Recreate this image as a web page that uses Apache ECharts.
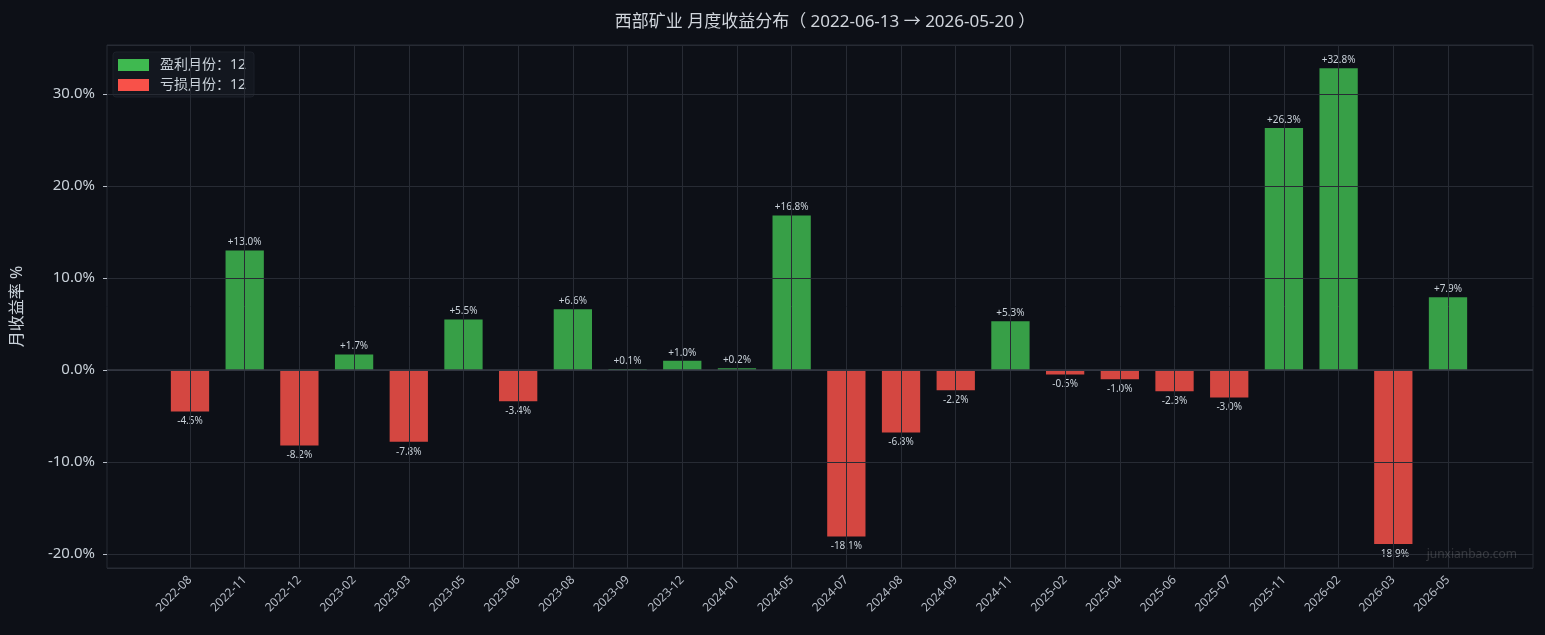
<!DOCTYPE html>
<html>
<head>
<meta charset="utf-8">
<script src="https://cdn.jsdelivr.net/npm/echarts@6/dist/echarts.min.js"></script>
<style>
  html, body { margin: 0; padding: 0; background: #0d1017; }
  #main { width: 1545px; height: 635px; }
</style>
</head>
<body>
<div id="main"></div>
<script>
var months = ['2022-08', '2022-11', '2022-12', '2023-02', '2023-03', '2023-05', '2023-06', '2023-08',
  '2023-09', '2023-12', '2024-01', '2024-05', '2024-07', '2024-08', '2024-09', '2024-11',
  '2025-02', '2025-04', '2025-06', '2025-07', '2025-11', '2026-02', '2026-03', '2026-05'];
var returns = [-4.5, 13.0, -8.2, 1.7, -7.8, 5.5, -3.4, 6.6,
  0.1, 1.0, 0.2, 16.8, -18.1, -6.8, -2.2, 5.3,
  -0.5, -1.0, -2.3, -3.0, 26.3, 32.8, -18.9, 7.9];
var yMin = -21.52, yMax = 35.33;

var fontFam = '"Noto Sans", "Noto Sans CJK SC", sans-serif';
var gridColor = '#272b34';
var textColor = '#c9d1d9';

// 正负分开成两个序列
var gains = returns.map(function (v) { return v > 0 ? v : null; });
var losses = returns.map(function (v) { return v < 0 ? v : null; });
var nGain = gains.filter(function (v) { return v !== null; }).length;
var nLoss = losses.filter(function (v) { return v !== null; }).length;
var gainName = '盈利月份：' + nGain;
var lossName = '亏损月份：' + nLoss;

function fmt(p) {
  var v = p.value;
  return (v > 0 ? '+' : '') + v.toFixed(1) + '%';
}

var chart = echarts.init(document.getElementById('main'));

var option = {
  backgroundColor: '#0d1017',
  animation: false,
  textStyle: { fontFamily: fontFam },
  title: {
    text: '西部矿业 月度收益分布（ 2022-06-13 → 2026-05-20 ）',
    left: 820,
    textAlign: 'center',
    top: 9,
    textStyle: { color: '#d0d5dc', fontSize: 17, fontWeight: 'normal', fontFamily: fontFam }
  },
  legend: {
    orient: 'vertical',
    left: 113,
    top: 52,
    padding: [6, 8, 5, 5],
    itemGap: 6,
    itemWidth: 31,
    itemHeight: 12,
    backgroundColor: 'rgba(20,24,32,0.9)',
    borderColor: '#1c2029',
    borderWidth: 1,
    borderRadius: 3,
    textStyle: { color: textColor, fontSize: 14, fontFamily: fontFam, padding: [0, 0, 0, 6] },
    data: [
      { name: gainName, icon: 'rect', itemStyle: { color: '#3fb950', opacity: 1 } },
      { name: lossName, icon: 'rect', itemStyle: { color: '#f85149', opacity: 1 } }
    ]
  },
  grid: [
    { left: 107, right: 12, top: 45, bottom: 67, show: true, borderColor: gridColor, borderWidth: 1, backgroundColor: 'transparent' },
    { left: 162.65, right: 69.65, top: 45, bottom: 67 }
  ],
  xAxis: [
    { type: 'value', gridIndex: 0, min: 0, max: 1, show: false },
    {
      type: 'category',
      gridIndex: 1,
      data: months,
      axisLine: { show: false },
      axisTick: { show: true, alignWithLabel: true, length: 5, lineStyle: { color: '#b8bec8' } },
      axisLabel: { rotate: 45, color: '#b8bec8', fontSize: 12, margin: 10, interval: 0 },
      splitLine: { show: false }
    }
  ],
  yAxis: [
    {
      type: 'value',
      gridIndex: 0,
      min: yMin,
      max: yMax,
      splitNumber: 5,
      z: 10,
      name: '月收益率 %',
      nameLocation: 'middle',
      nameRotate: 90,
      nameGap: 82,
      nameTextStyle: { color: textColor, fontSize: 16 },
      axisLine: { show: false },
      axisTick: { show: true, length: 4, lineStyle: { color: '#b8bec8' } },
      axisLabel: {
        color: textColor, fontSize: 15, margin: 12,
        showMinLabel: false, showMaxLabel: false,
        formatter: function (v) { return v.toFixed(1) + '%'; }
      },
      splitLine: { show: true, lineStyle: { color: gridColor, width: 1 } }
    },
    { type: 'value', gridIndex: 1, min: yMin, max: yMax, show: false }
  ],
  graphic: [{
    type: 'text',
    right: 28,
    top: 549,
    z: 20,
    style: { text: 'junxianbao.com', fill: 'rgba(255,255,255,0.16)', fontSize: 12, fontFamily: fontFam }
  }],
  series: [
    {
      name: gainName,
      type: 'bar',
      xAxisIndex: 1,
      yAxisIndex: 1,
      stack: 'r',
      barWidth: '70%',
      itemStyle: { color: 'rgba(63,185,80,0.85)' },
      label: { show: true, position: 'top', distance: 3, color: textColor, fontSize: 10, formatter: fmt },
      data: gains,
      markLine: {
        silent: true,
        symbol: 'none',
        z: 10,
        label: { show: false },
        lineStyle: { color: gridColor, width: 1, type: 'solid' },
        data: months.map(function (m) { return { xAxis: m }; })
      }
    },
    {
      name: lossName,
      type: 'bar',
      xAxisIndex: 1,
      yAxisIndex: 1,
      stack: 'r',
      barWidth: '70%',
      itemStyle: { color: 'rgba(248,81,73,0.85)' },
      label: { show: true, position: 'bottom', distance: 5, color: textColor, fontSize: 10, formatter: fmt },
      data: losses
    },
    {
      // 零线，横跨整个绘图区
      name: 'zero',
      type: 'line',
      xAxisIndex: 0,
      yAxisIndex: 0,
      silent: true,
      z: 12,
      symbol: 'none',
      lineStyle: { color: '#363a44', width: 1.6 },
      data: [[0, 0], [1, 0]]
    }
  ]
};

chart.setOption(option);
</script>
</body>
</html>
